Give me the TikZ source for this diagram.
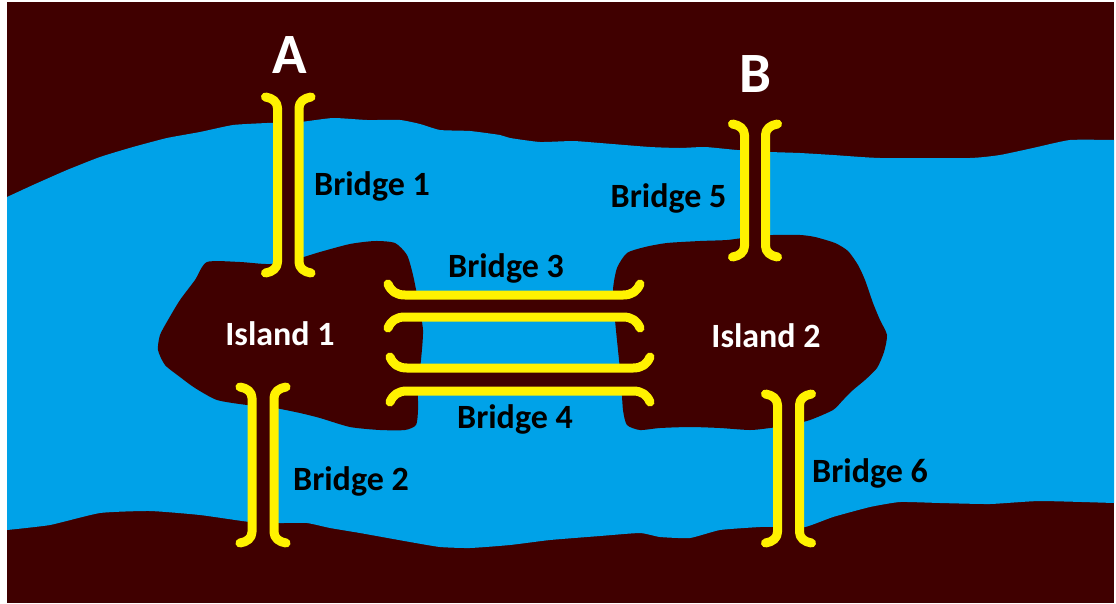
\documentclass[tikz,border=0pt]{standalone}
\usepackage{fontspec}
\setmainfont{Carlito}
\definecolor{soil}{RGB}{64,0,0}
\definecolor{water}{RGB}{0,162,232}
\definecolor{plank}{RGB}{255,242,0}
\tikzset{
  land/.style={fill=soil},
  rail/.style={draw=plank, line width=9pt, line cap=round, line join=round},
  blabel/.style={inner sep=0pt, anchor=base, text=black, font=\fontsize{34}{34}\selectfont\bfseries},
  ilabel/.style={inner sep=0pt, anchor=base, text=white, font=\fontsize{34}{34}\selectfont\bfseries},
  plabel/.style={inner sep=0pt, anchor=base, text=white, font=\fontsize{57}{57}\selectfont\bfseries}
}
% vertical bridge: left rail x, right rail x, top end y, bottom end y
\newcommand\vbridge[4]{%
  \fill[land] (#1,{#3+8}) rectangle (#2,{#4-8});
  \draw[rail] ({#1-12},#3) .. controls ({#1-5},{#3+1}) and (#1,{#3+5}) .. (#1,{#3+11})
     -- (#1,{#4-11}) .. controls (#1,{#4-5}) and ({#1-5},{#4-1}) .. ({#1-12},#4);
  \draw[rail] ({#2+12},#3) .. controls ({#2+5},{#3+1}) and (#2,{#3+5}) .. (#2,{#3+11})
     -- (#2,{#4-11}) .. controls (#2,{#4-5}) and ({#2+5},{#4-1}) .. ({#2+12},#4);
}
% horizontal bridge: upper rail y, lower rail y, left end x, right end x
\newcommand\hbridge[4]{%
  \fill[land] ({#3+12},#1) rectangle ({#4-12},#2);
  \draw[rail] (#3,{#1-11}) .. controls ({#3+3},{#1-4}) and ({#3+8},#1) .. ({#3+17},#1)
     -- ({#4-17},#1) .. controls ({#4-8},#1) and ({#4-3},{#1-4}) .. (#4,{#1-11});
  \draw[rail] (#3,{#2+11}) .. controls ({#3+3},{#2+4}) and ({#3+8},#2) .. ({#3+17},#2)
     -- ({#4-17},#2) .. controls ({#4-8},#2) and ({#4-3},{#2+4}) .. (#4,{#2+11});
}
\begin{document}
\begin{tikzpicture}[x=1pt,y=-1pt]
\useasboundingbox (0,0) rectangle (1116,603);
\fill[white] (0,0) rectangle (1116,603);
\fill[soil] (7,2) rectangle (1114,603);

% river
\fill[water] plot[smooth, tension=0.3] coordinates {
  (7,197) (33,185) (67,170) (100,157) (133,147) (167,138) (200,132) (233,125)
  (267,123) (300,122) (333,118) (367,120) (400,120) (420,124) (440,130) (470,131)
  (500,135) (510,138) (540,142) (573,141) (600,143) (650,147) (680,148) (705,147)
  (737,150) (770,152) (800,153) (833,155) (880,158) (970,158) (1000,155) (1033,148)
  (1070,140) (1114,140)}
  -- (1114,503) -- plot[smooth, tension=0.3] coordinates {
  (1114,503) (1040,501) (990,504) (940,503) (900,502) (870,507) (833,517) (805,527)
  (775,527) (760,527) (720,530) (690,538) (660,537) (640,533) (600,536) (550,540)
  (510,545) (470,548) (440,547) (410,542) (360,533) (330,528) (307,523) (280,523)
  (250,522) (200,515) (150,511) (100,513) (50,525) (7,530)} -- cycle;

% islands
\fill[land] plot[smooth cycle, tension=0.4] coordinates {
  (207,262) (240,262) (270,264) (300,258) (320,252) (350,244) (375,241) (395,243)
  (407,255) (413,275) (418,300) (423,330) (421,360) (418,385) (418,410) (416,425)
  (405,430) (380,430) (350,427) (320,418) (300,413) (270,407) (247,405) (217,400)
  (195,388) (180,377) (165,365) (158,350) (160,335) (168,320) (180,300) (195,280)};
\fill[land] plot[smooth cycle, tension=0.4] coordinates {
  (627,253) (645,247) (667,243) (700,241) (727,240) (750,237) (773,235) (800,235)
  (815,237) (835,243) (848,251) (858,265) (865,280) (873,303) (880,320) (887,335)
  (884,352) (877,368) (865,380) (853,390) (843,400) (833,410) (810,420) (790,425)
  (770,428) (750,430) (720,428) (690,427) (660,428) (640,430) (627,425) (623,410)
  (621,380) (618,350) (615,320) (613,290) (617,268)};

% bridges
\vbridge{277.5}{299}{97}{273}
\vbridge{252}{274}{387}{543}
\vbridge{744.5}{765.5}{124}{257}
\vbridge{777.5}{799.5}{394}{543}
\hbridge{295}{317}{388}{640}
\hbridge{368}{391}{390}{650}

% labels
\node[plabel] (pA) at (289.5,73) {A};
\node[plabel] (pB) at (755,92) {B};
\node[ilabel] (i1) at (280,345) {Island 1};
\node[ilabel] (i2) at (766,347) {Island 2};
\node[blabel] (b1) at (372,195) {Bridge 1};
\node[blabel] (b2) at (351,490) {Bridge 2};
\node[blabel] (b3) at (506,277) {Bridge 3};
\node[blabel] (b4) at (515,428) {Bridge 4};
\node[blabel] (b5) at (668.5,207) {Bridge 5};
\node[blabel] (b6) at (870,482) {Bridge 6};
\end{tikzpicture}
\end{document}
